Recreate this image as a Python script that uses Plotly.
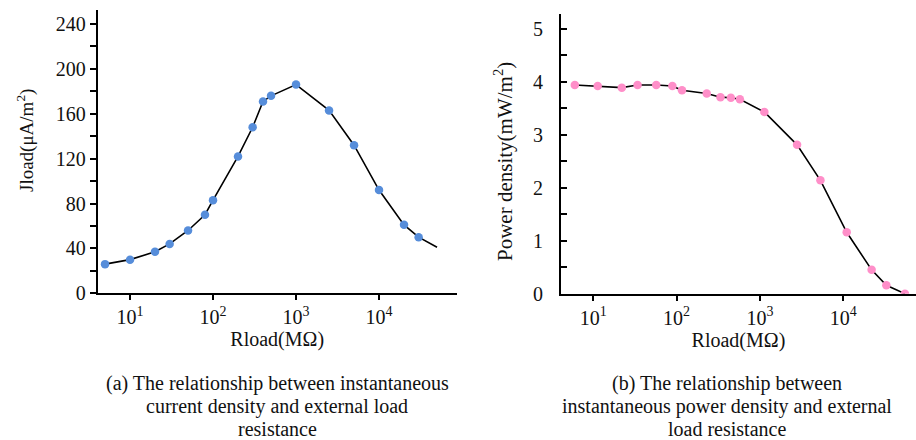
import plotly.graph_objects as go

# (a) current density vs load resistance
r_a = [5, 10, 20, 30, 50, 80, 100, 200, 300, 400, 500, 1000, 2500, 5000, 10000, 20000, 30000, 50000]
j_a = [26, 30, 37, 44, 56, 70, 83, 122, 148, 171, 176, 186, 163, 132, 92, 61, 50, 41]

# (b) power density vs load resistance
r_b = [6, 11.3, 22, 34, 57, 89, 116, 230, 336, 448, 575, 1130, 2790, 5320, 11000, 21900, 32900, 55000]
p_b = [3.94, 3.92, 3.89, 3.94, 3.94, 3.92, 3.84, 3.78, 3.71, 3.70, 3.67, 3.43, 2.81, 2.14, 1.16, 0.45, 0.16, 0.0]

x_tickvals = [10, 100, 1000, 10000]
x_ticktext = ["10<sup>1</sup>", "10<sup>2</sup>", "10<sup>3</sup>", "10<sup>4</sup>"]
ya_ticks = [0, 40, 80, 120, 160, 200, 240]
ya_text = ["0", "40", "80", "120", "160", "200", "240"]
yb_ticks = [0, 1, 2, 3, 4, 5]
yb_text = ["0", "1", "2", "3", "4", "5"]

x_title = "Rload(MΩ)"
ya_title = "Jload(μA/m<sup>2</sup>)"
yb_title = "Power density(mW/m<sup>2</sup>)"
cap_a_lines = ["(a) The relationship between instantaneous",
               "current density and external load",
               "resistance"]
cap_b_lines = ["(b) The relationship between",
               "instantaneous power density and external",
               "load resistance"]

FONT = "Liberation Serif, Times New Roman, serif"
blue = "rgb(86,141,218)"
pink = "rgb(255,143,201)"


def tfont():
    return dict(family=FONT, size=20, color="#111")


fig = go.Figure()
fig.add_trace(go.Scatter(x=r_a, y=j_a, mode="lines", line=dict(color="black", width=1.6),
                         xaxis="x", yaxis="y", showlegend=False, hoverinfo="skip"))
fig.add_trace(go.Scatter(x=r_a[:-1], y=j_a[:-1], mode="markers",
                         marker=dict(color=blue, size=8.5, line=dict(width=0)),
                         xaxis="x", yaxis="y", showlegend=False))
fig.add_trace(go.Scatter(x=r_b, y=p_b, mode="lines+markers", line=dict(color="black", width=1.6),
                         marker=dict(color=pink, size=8.5, line=dict(width=0)),
                         xaxis="x2", yaxis="y2", showlegend=False))

annotations = [
    dict(text=ya_title, xref="paper", yref="paper", x=25/916, y=(440-141)/440, textangle=-90,
         showarrow=False, xanchor="center", yanchor="middle", font=dict(family=FONT, size=19)),
    dict(text=yb_title, xref="paper", yref="paper", x=503/916, y=(440-162)/440, textangle=-90,
         showarrow=False, xanchor="center", yanchor="middle", font=dict(family=FONT, size=21)),
]
line_y = [383, 406, 428.5]
for cx, lines in ((277, cap_a_lines), (727, cap_b_lines)):
    for ly, txt in zip(line_y, lines):
        annotations.append(dict(text=txt, xref="paper", yref="paper", x=cx/916, y=(440-ly)/440,
                                showarrow=False, xanchor="center", yanchor="middle",
                                font=dict(family=FONT, size=20)))

fig.update_layout(
    template="none",
    width=916, height=440, margin=dict(l=0, r=0, t=0, b=0),
    paper_bgcolor="white", plot_bgcolor="white",
    font=dict(family=FONT, size=20, color="#111"),
    xaxis=dict(domain=[0.1067, 0.4986], anchor="y", type="log", range=[0.611, 4.936],
               tickmode="array", tickvals=x_tickvals, ticktext=x_ticktext,
               ticks="outside", ticklen=5, tickwidth=1.5, tickcolor="black", tickfont=tfont(),
               showline=True, linecolor="black", linewidth=1.8, showgrid=False, zeroline=False,
               title=dict(text=x_title, font=tfont(), standoff=4)),
    yaxis=dict(domain=[0.3334, 0.9773], anchor="x", range=[0, 252.5],
               tickmode="array", tickvals=ya_ticks, ticktext=ya_text,
               ticks="outside", ticklen=6, tickwidth=1.5, tickcolor="black", tickfont=tfont(),
               showline=True, linecolor="black", linewidth=1.8, showgrid=False, zeroline=False,
               minor=dict(dtick=20, ticks="outside", ticklen=6, tickcolor="black", tickwidth=1.5,
                          showgrid=False)),
    xaxis2=dict(domain=[0.6124, 1.0], anchor="y2", type="log", range=[0.612, 4.873],
                tickmode="array", tickvals=x_tickvals, ticktext=x_ticktext,
                ticks="outside", ticklen=5, tickwidth=1.5, tickcolor="black", tickfont=tfont(),
                showline=True, linecolor="black", linewidth=1.8, showgrid=False, zeroline=False,
                title=dict(text=x_title, font=tfont(), standoff=4)),
    yaxis2=dict(domain=[0.3325, 0.9682], anchor="x2", range=[0, 5.28],
                tickmode="array", tickvals=yb_ticks, ticktext=yb_text,
                ticks="inside", ticklen=6, tickwidth=1.5, tickcolor="black", tickfont=tfont(),
                ticklabelstandoff=12,
                showline=True, linecolor="black", linewidth=1.8, showgrid=False, zeroline=False,
                minor=dict(dtick=0.5, ticks="inside", ticklen=6, tickcolor="black", tickwidth=1.5,
                           showgrid=False)),
    annotations=annotations,
)

fig.write_html("out.html")
